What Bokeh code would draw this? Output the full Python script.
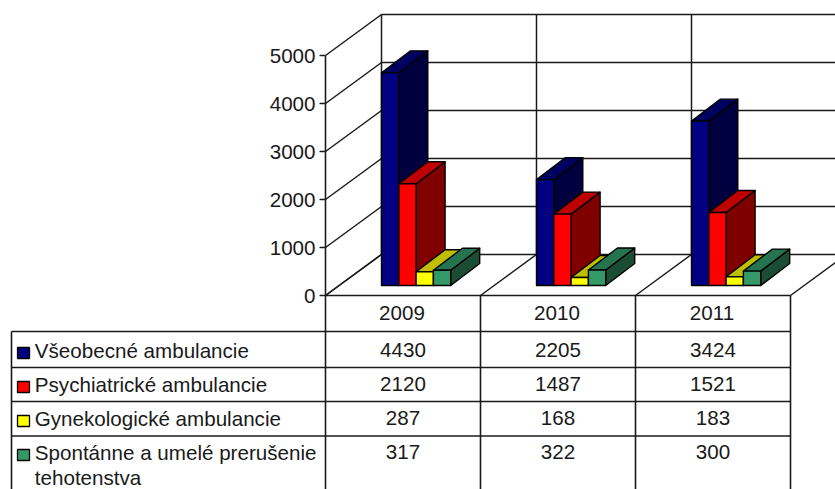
from bokeh.plotting import figure
from bokeh.models import FixedTicker, Range1d
from bokeh.core.properties import value
from bokeh.embed import file_html
from bokeh.resources import INLINE

years = ["2009", "2010", "2011"]
series = ["Všeobecné ambulancie", "Psychiatrické ambulancie", "Gynekologické ambulancie",
          "Spontánne a umelé prerušenie\ntehotenstva"]
vseobecne = [4430, 2205, 3424]
psychiatricke = [2120, 1487, 1521]
gynekologicke = [287, 168, 183]
prerusenie = [317, 322, 300]
ticks = [0, 1000, 2000, 3000, 4000, 5000]
front = ["#000080", "#FF0000", "#FFFF00", "#339966"]
top = ["#000060", "#BF0000", "#BFBF00", "#267350"]
side = ["#000040", "#800000", "#808000", "#1A4D33"]
values = [vseobecne, psychiatricke, gynekologicke, prerusenie]

PX_CAT = 155.0
PX_VAL = 0.048
X0, Y0 = 325.0, 295.0
FONT = value("Liberation Sans")
SIZE = value("20.6px")
INK = "#1a1a1a"


def cx(px):
    return (px - X0) / PX_CAT


def vy(py):
    return (Y0 - py) / PX_VAL


p = figure(width=835, height=489, output_backend="svg", toolbar_location=None,
           x_range=Range1d(cx(0), cx(835)), y_range=Range1d(vy(489), vy(0)),
           min_border=0, min_border_left=0, min_border_right=0, min_border_top=0, min_border_bottom=0,
           outline_line_color=None)
p.xgrid.visible = False
p.ygrid.visible = False
p.xaxis.visible = False

ax = p.yaxis[0]
ax.fixed_location = 0
ax.bounds = (0, 5000)
ax.ticker = FixedTicker(ticks=ticks)
ax.major_tick_in = 0
ax.major_tick_out = 6
ax.minor_tick_line_color = None
ax.major_label_standoff = 4
ax.major_label_text_font = "Liberation Sans"
ax.major_label_text_font_size = "20.6px"
ax.major_label_text_color = INK
ax.axis_line_color = INK
ax.major_tick_line_color = INK
ax.axis_line_width = 1.6
ax.major_tick_line_width = 1.6

DX, DY = 56 / PX_CAT, 41 / PX_VAL
n = len(years)
wx0, wy0, wx1, wy1 = [], [], [], []
for t in ticks:
    wx0 += [0, DX]
    wy0 += [t, t + DY]
    wx1 += [DX, n + DX]
    wy1 += [t + DY, t + DY]
for i in range(n):
    wx0.append(i + DX)
    wy0.append(ticks[0] + DY)
    wx1.append(i + DX)
    wy1.append(ticks[-1] + DY)
for i in range(n + 1):
    wx0.append(i)
    wy0.append(0)
    wx1.append(i + DX)
    wy1.append(DY)
p.segment(wx0, wy0, wx1, wy1, line_color=INK, line_width=1.5)

BX, BW = 56 / PX_CAT, 17.3 / PX_CAT
BASE = 10 / PX_VAL
BDX, BDY = 29 / PX_CAT, 22 / PX_VAL
for i in range(n):
    for s, vals in enumerate(values):
        x0 = i + BX + s * BW
        x1 = x0 + BW
        y0 = BASE
        y1 = BASE + vals[i]
        p.patches(
            [[x1, x1 + BDX, x1 + BDX, x1], [x0, x1, x1 + BDX, x0 + BDX], [x0, x1, x1, x0]],
            [[y0, y0 + BDY, y1 + BDY, y1], [y1, y1, y1 + BDY, y1 + BDY], [y0, y0, y1, y1]],
            fill_color=[side[s], top[s], front[s]], line_color="black", line_width=1.4,
            line_join="round")

bottom = vy(489)
row_lines = [331, 367, 401, 435.5]
hx0 = [0] + [cx(11)] * len(row_lines)
hx1 = [n] * (len(row_lines) + 1)
hy = [0] + [vy(r) for r in row_lines]
p.segment(hx0, hy, hx1, hy, line_color=INK, line_width=1.6)
vx = [cx(11)] + list(range(n + 1))
vtop = [vy(331)] + [0] * (n + 1)
p.segment(vx, vtop, vx, [bottom] * len(vx), line_color=INK, line_width=1.6)

baselines = [358.5, 392.5, 426.5, 460.5]
LIFT = 8.2
tx, ty, tt = [], [], []
for i in range(n):
    tx.append(i + 0.5 - 1 / PX_CAT)
    ty.append(vy(320.5 - LIFT))
    tt.append(years[i])
    for s, vals in enumerate(values):
        tx.append(i + 0.5)
        ty.append(vy(baselines[s] - 0.5 - LIFT))
        tt.append(str(vals[i]))
p.text(tx, ty, text=tt, text_font=FONT, text_font_size=SIZE, text_color=INK,
       text_align="center", text_baseline="alphabetic")

lx, ly, lt = [], [], []
for s, name in enumerate(series):
    for k, line in enumerate(name.split("\n")):
        lx.append(cx(34.3))
        ly.append(vy(baselines[s] + k * 25 - LIFT))
        lt.append(line)
p.text(lx, ly, text=lt, text_font=FONT, text_font_size=SIZE, text_color=INK,
       text_align="left", text_baseline="alphabetic")

p.quad(left=[cx(17)] * 4, right=[cx(29)] * 4,
       top=[vy(b - 11.5) for b in baselines], bottom=[vy(b - 0.5) for b in baselines],
       fill_color=front, line_color="black", line_width=1.3)

open("out.html", "w").write(file_html(p, INLINE))
